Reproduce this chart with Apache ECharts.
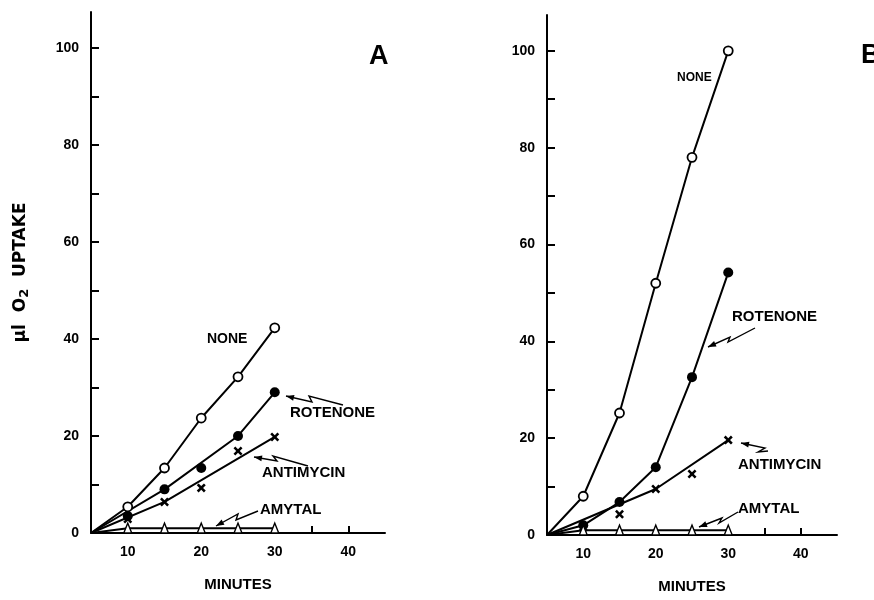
<!DOCTYPE html>
<html lang="en">
<head>
<meta charset="utf-8">
<title>O2 uptake</title>
<script src="https://cdn.jsdelivr.net/npm/echarts@6/dist/echarts.min.js"></script>
<style>
    html,body{margin:0;padding:0;background:#fff;}
    #main{width:874px;height:600px;}
</style>
</head>
<body>
<div id="main"></div>
<script type="text/javascript">
// axis ticks / labels
var yTicks = [0,10,20,30,40,50,60,70,80,90,100];
var yLabels = [0,20,40,60,80,100];
var xTicks = [10,15,20,25,30,35,40];
var xLabels = [10,20,30,40];

// panel A - lines (drawn from the origin at 5 min)
var noneLineA = [[5,0],[10,5.4],[15,13.4],[20,23.7],[25,32.2],[30,42.3]];
var rotLineA  = [[5,0],[15,9],[25,20],[30,29]];
var antLineA  = [[5,0],[15,6.4],[30,19.8]];
var amyLineA  = [[5,0],[10,1],[30,1]];
// panel A - points
var nonePtsA = [[10,5.4],[15,13.4],[20,23.7],[25,32.2],[30,42.3]];
var rotPtsA  = [[10,3.5],[15,9],[20,13.4],[25,20],[30,29]];
var antPtsA  = [[10,2.9],[15,6.4],[20,9.3],[25,16.9],[30,19.8]];
var amyPtsA  = [[10,1],[15,1],[20,1],[25,1],[30,1]];

// panel B - lines
var noneLineB = [[5,0],[10,8],[15,25.2],[20,52],[25,78],[30,100]];
var rotLineB  = [[5,0],[10,2],[15,6.8],[20,14],[25,32.6],[30,54.2]];
var antLineB  = [[5,0],[20,9.5],[30,19.6]];
var amyLineB  = [[5,0],[10,1],[30,1]];
// panel B - points
var nonePtsB = [[10,8],[15,25.2],[20,52],[25,78],[30,100]];
var rotPtsB  = [[10,2],[15,6.8],[20,14],[25,32.6],[30,54.2]];
var antPtsB  = [[10,1.6],[15,4.3],[20,9.5],[25,12.6],[30,19.6]];
var amyPtsB  = [[10,1],[15,1],[20,1],[25,1],[30,1]];

var FONT = '"Liberation Sans", Arial, sans-serif';
var X_PATH = 'path://M0,2L2,0L5,3L8,0L10,2L7,5L10,8L8,10L5,7L2,10L0,8L3,5Z';

function lineSeries(data, idx){
    return {type:'line', xAxisIndex:idx, yAxisIndex:idx, data:data, symbol:'none',
        lineStyle:{color:'#000', width:2}, silent:true, z:2};
}
function ptSeries(data, idx, kind){
    var s = {type:'scatter', xAxisIndex:idx, yAxisIndex:idx, data:data, silent:true, z:3};
    if(kind=='open'){ s.symbol='circle'; s.symbolSize=9; s.itemStyle={color:'#fff', borderColor:'#000', borderWidth:1.8, opacity:1}; }
    if(kind=='fill'){ s.symbol='circle'; s.symbolSize=10; s.itemStyle={color:'#000', opacity:1}; }
    if(kind=='x'){ s.symbol=X_PATH; s.symbolSize=9; s.itemStyle={color:'#000', opacity:1}; }
    if(kind=='tri'){ s.symbol='triangle'; s.symbolSize=[8,10]; s.itemStyle={color:'#fff', borderColor:'#000', borderWidth:1.5, opacity:1}; }
    return s;
}
function xAxisOf(idx){
    return {type:'value', gridIndex:idx, min:5, max:45,
        axisLine:{onZero:false, lineStyle:{color:'#000', width:2}},
        axisTick:{inside:true, length:7, customValues:xTicks, lineStyle:{color:'#000', width:2}},
        axisLabel:{customValues:xLabels, color:'#000', fontFamily:FONT, fontWeight:'bold', fontSize:14, margin:12},
        splitLine:{show:false},
        name:'MINUTES', nameLocation:'middle', nameGap:44,
        nameTextStyle:{color:'#000', fontFamily:FONT, fontWeight:'bold', fontSize:15}};
}
function yAxisOf(idx, withName){
    var a = {type:'value', gridIndex:idx, min:0, max:107.4,
        axisLine:{onZero:false, lineStyle:{color:'#000', width:2}},
        axisTick:{inside:true, length:8, customValues:yTicks, lineStyle:{color:'#000', width:2}},
        axisLabel:{customValues:yLabels, color:'#000', fontFamily:FONT, fontWeight:'bold', fontSize:14, margin:12},
        splitLine:{show:false}};
    if(withName){
        a.name = 'µl  O{sub|2}  UPTAKE';
        a.nameLocation = 'middle';
        a.nameGap = 60;
        a.nameTextStyle = {color:'#000', fontFamily:'"DejaVu Sans", sans-serif', fontWeight:'bold', fontSize:17,
            rich:{sub:{fontFamily:'"DejaVu Sans", sans-serif', fontWeight:'bold', fontSize:13, padding:[7,0,0,0], verticalAlign:'bottom'}}};
    }
    return a;
}

// lightning-style pointer: first point is the arrow tip
function arrow(pts){
    var t = pts[0], p = pts[1];
    var dx = t[0]-p[0], dy = t[1]-p[1], l = Math.sqrt(dx*dx+dy*dy);
    dx/=l; dy/=l;
    var bx = t[0]-dx*8, by = t[1]-dy*8;
    return [
        {type:'polyline', shape:{points:pts}, style:{stroke:'#000', lineWidth:1.4, fill:null}, silent:true},
        {type:'polygon', shape:{points:[t,[bx-dy*3,by+dx*3],[bx+dy*3,by-dx*3]]}, style:{fill:'#000'}, silent:true}
    ];
}
function label(text, x, y, size){
    return {type:'text', x:x, y:y, silent:true,
        style:{text:text, font:'bold '+(size||15)+'px '+FONT, fill:'#000', align:'left', verticalAlign:'middle'}};
}

var graphics = [
    label('A', 369, 57, 27),
    label('B', 861, 56, 27),
    label('NONE', 207, 339, 14),
    label('ROTENONE', 290, 413),
    label('ANTIMYCIN', 262, 473),
    label('AMYTAL', 260, 510),
    label('NONE', 677, 78, 12),
    label('ROTENONE', 732, 317),
    label('ANTIMYCIN', 738, 465),
    label('AMYTAL', 738, 509)
].concat(
    arrow([[286,396],[312,402],[309,396],[343,405]]),
    arrow([[254,457],[277,461],[273,456],[308,466]]),
    arrow([[216,526],[238,514],[236,520],[258,511]]),
    arrow([[708,347],[730,337],[728,342],[755,328]]),
    arrow([[741,443],[765,448],[758,452],[768,451]]),
    arrow([[699,527],[722,518],[719,523],[738,512]])
);

var myChart = echarts.init(document.getElementById('main'));
var option = {
    animation:false,
    backgroundColor:'#fff',
    grid:[
        {left:91, top:12, width:294, height:521},
        {left:547, top:15, width:290, height:520}
    ],
    xAxis:[xAxisOf(0), xAxisOf(1)],
    yAxis:[yAxisOf(0, true), yAxisOf(1, false)],
    series:[
        lineSeries(noneLineA,0), lineSeries(rotLineA,0), lineSeries(antLineA,0), lineSeries(amyLineA,0),
        ptSeries(nonePtsA,0,'open'), ptSeries(rotPtsA,0,'fill'), ptSeries(antPtsA,0,'x'), ptSeries(amyPtsA,0,'tri'),
        lineSeries(noneLineB,1), lineSeries(rotLineB,1), lineSeries(antLineB,1), lineSeries(amyLineB,1),
        ptSeries(nonePtsB,1,'open'), ptSeries(rotPtsB,1,'fill'), ptSeries(antPtsB,1,'x'), ptSeries(amyPtsB,1,'tri')
    ],
    graphic:graphics
};
myChart.setOption(option);
</script>
</body>
</html>
